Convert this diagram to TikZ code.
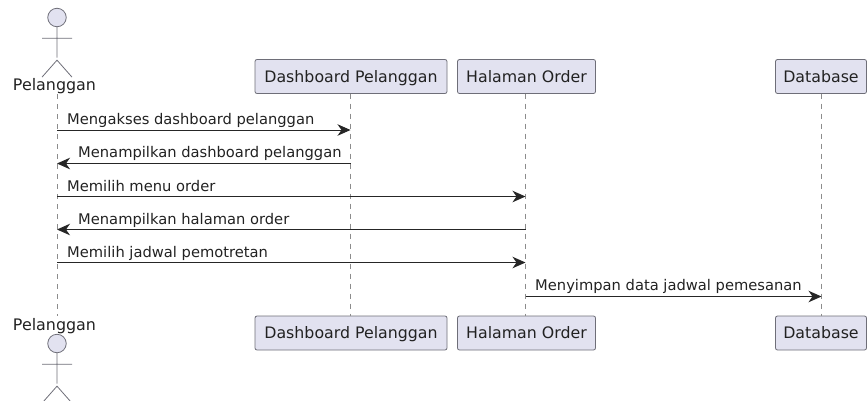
\documentclass[tikz,border=0pt]{standalone}
\usepackage{fontspec}
\setmainfont{DejaVu Sans}
\usetikzlibrary{arrows.meta}
\definecolor{boxfill}{HTML}{E2E2F0}
\definecolor{boxline}{HTML}{6E6E78}
\definecolor{textcol}{HTML}{222222}
\tikzset{
	participantbox/.style={draw=boxline, fill=boxfill, rounded corners=2pt, line width=0.8pt, text=textcol, font=\fontsize{15.8}{18}\selectfont, minimum height=34pt, text height=14pt, text depth=3pt, inner sep=0pt, anchor=center},
	actorhead/.style={draw=boxline, fill=boxfill, circle, line width=0.8pt, minimum size=18.5pt, inner sep=0pt},
	actorlabel/.style={text=textcol, font=\fontsize{15.9}{18}\selectfont, text height=14pt, text depth=3pt, inner sep=0pt},
	lifeline/.style={draw=black!45, line width=0.7pt, dash pattern=on 5pt off 5pt},
	msgarrow/.style={draw=black!85, line width=1pt, -{Stealth[length=13pt, width=11.5pt, inset=4pt]}},
	msglabel/.style={text=textcol, font=\fontsize{14.7}{17}\selectfont, text height=14pt, text depth=4pt, inner sep=0pt, anchor=west}
}
\newcommand{\stickman}[1]{\draw[boxline, line width=0.8pt] (#1.south) -- ++(0,-30.5pt) ++(-15pt,19.5pt) -- ++(30pt,0pt) ++(-30pt,-39pt) -- ++(15pt,17pt) -- ++(15pt,-17pt);}

\begin{document}
\begin{tikzpicture}[x=1pt, y=-1pt]
	\useasboundingbox (0,0) rectangle (867,400);

	% top row
	\node[actorhead] (headtop) at (57,17.5) {};
	\node[actorlabel] (pelanggantop) at (54.5,85) {Pelanggan};
	\node[participantbox, minimum width=192pt] (dashtop) at (351,76.5) {Dashboard Pelanggan};
	\node[participantbox, minimum width=138pt] (ordertop) at (526.5,76.5) {Halaman Order};
	\node[participantbox, minimum width=91pt] (dbtop) at (821,76.5) {Database};

	% bottom row
	\node[actorlabel] (pelangganbot) at (54.5,325) {Pelanggan};
	\node[actorhead] (headbot) at (57,343.5) {};
	\node[participantbox, minimum width=192pt] (dashbot) at (351,333) {Dashboard Pelanggan};
	\node[participantbox, minimum width=138pt] (orderbot) at (526.5,333) {Halaman Order};
	\node[participantbox, minimum width=91pt] (dbbot) at (821,333) {Database};

	% lifelines
	\coordinate (lanetop) at (57,94);
	\coordinate (lanebot) at (57,316);
	\draw[lifeline] (lanetop) -- (lanebot);
	\draw[lifeline] (dashtop) ++(-0.5,17) -- (dashbot.north -| 350.5,0);
	\draw[lifeline] (ordertop) ++(-1,17) -- (orderbot.north -| 525.5,0);
	\draw[lifeline] (dbtop) ++(0.5,17) -- (dbbot.north -| 821.5,0);

	% actors
	\stickman{headtop}
	\stickman{headbot}

	% rows
	\coordinate (pelanggan) at (57,0);
	\coordinate (dash) at (350.5,0);
	\coordinate (order) at (525.5,0);
	\coordinate (db) at (821.5,0);
	\coordinate (msga) at (0,130);
	\coordinate (msgb) at (0,163.5);
	\coordinate (msgc) at (0,196.5);
	\coordinate (msgd) at (0,229.5);
	\coordinate (msge) at (0,262.5);
	\coordinate (msgf) at (0,296.5);

	% messages
	\draw[msgarrow] (pelanggan |- msga) -- (dash |- msga);
	\draw[msgarrow] (dash |- msgb) -- (pelanggan |- msgb);
	\draw[msgarrow] (pelanggan |- msgc) -- (order |- msgc);
	\draw[msgarrow] (order |- msgd) -- (pelanggan |- msgd);
	\draw[msgarrow] (pelanggan |- msge) -- (order |- msge);
	\draw[msgarrow] (order |- msgf) -- (db |- msgf);

	\node[msglabel] (texta) at (67,119.5) {Mengakses dashboard pelanggan};
	\node[msglabel] (textb) at (78,152.5) {Menampilkan dashboard pelanggan};
	\node[msglabel] (textc) at (67,186.5) {Memilih menu order};
	\node[msglabel] (textd) at (78,219.5) {Menampilkan halaman order};
	\node[msglabel] (texte) at (67,252.5) {Memilih jadwal pemotretan};
	\node[msglabel] (textf) at (535,285.5) {Menyimpan data jadwal pemesanan};
\end{tikzpicture}
\end{document}
